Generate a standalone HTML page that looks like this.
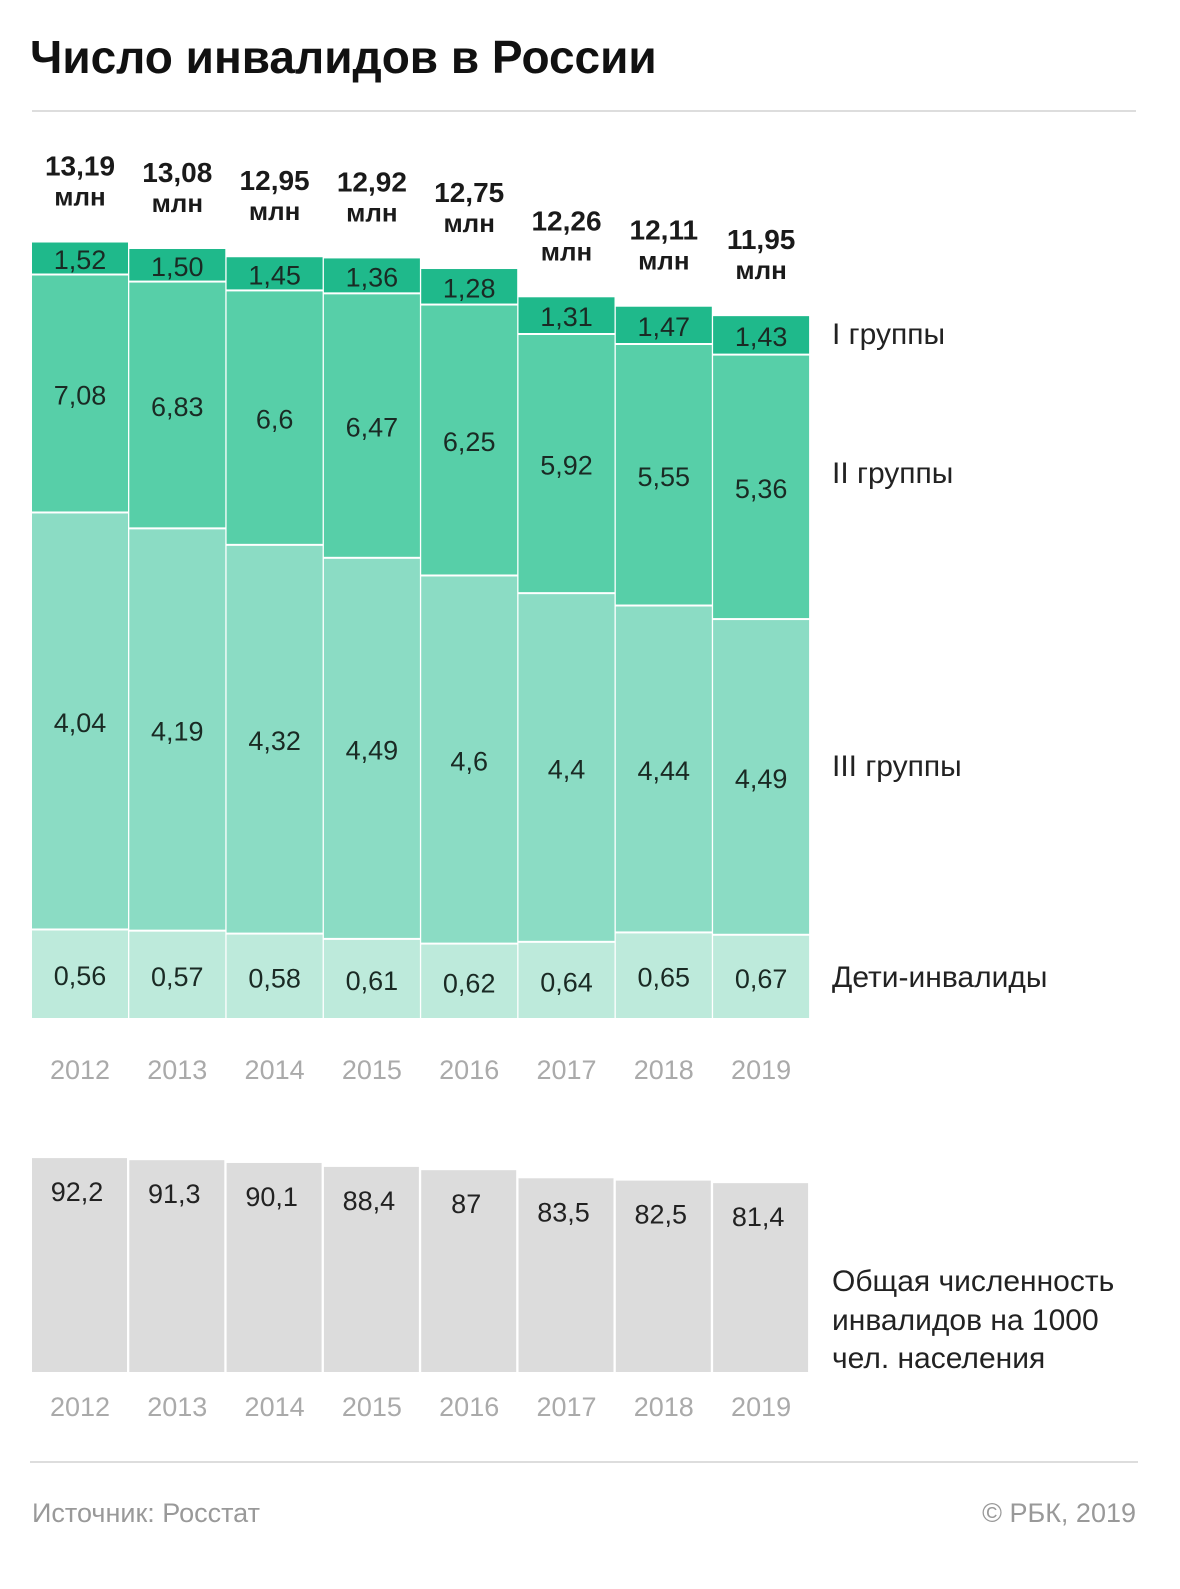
<!DOCTYPE html>
<html><head><meta charset="utf-8">
<style>
body{margin:0;background:#fff;width:1180px;height:1584px;overflow:hidden;font-family:"Liberation Sans","DejaVu Sans",sans-serif;}
svg text{font-family:"Liberation Sans","DejaVu Sans",sans-serif;}
</style></head>
<body>
<svg id="chart" width="1180" height="1584" xmlns="http://www.w3.org/2000/svg">
<text x="30" y="73" font-size="46" font-weight="bold" fill="#111">Число инвалидов в России</text>
<line x1="32" y1="111" x2="1136" y2="111" stroke="#ddd" stroke-width="2"/>
<g id="stack"></g>
<g id="rate"></g>
<text x="832" y="344" font-size="30" fill="#222">I группы</text>
<text x="832" y="483" font-size="30" fill="#222">II группы</text>
<text x="832" y="776" font-size="30" fill="#222">III группы</text>
<text x="832" y="987" font-size="30" fill="#222">Дети-инвалиды</text>
<text font-size="30" fill="#222"><tspan x="832" y="1291">Общая численность</tspan><tspan x="832" y="1330">инвалидов на 1000</tspan><tspan x="832" y="1368">чел. населения</tspan></text>
<line x1="30" y1="1462" x2="1138" y2="1462" stroke="#ddd" stroke-width="2"/>
<text x="32" y="1522" font-size="27" fill="#999">Источник: Росстат</text>
<text x="1136" y="1522" font-size="27" fill="#999" text-anchor="end">© РБК, 2019</text>
</svg>
<script>
const years=["2012","2013","2014","2015","2016","2017","2018","2019"];
const totals=["13,19","13,08","12,95","12,92","12,75","12,26","12,11","11,95"];
const group1=[1.52,1.50,1.45,1.36,1.28,1.31,1.47,1.43];
const group2=[7.08,6.83,6.6,6.47,6.25,5.92,5.55,5.36];
const group3=[4.04,4.19,4.32,4.49,4.6,4.4,4.44,4.49];
const children=[0.56,0.57,0.58,0.61,0.62,0.64,0.65,0.67];
const rate=[92.2,91.3,90.1,88.4,87,83.5,82.5,81.4];

const NS="http://www.w3.org/2000/svg";
const fmt=v=>String(v).replace('.',',');
const fmt2=v=>v.toFixed(2).replace('.',',');
const x=i=>32+i*97.3;
const bw=96;
const base=1020, k=58.9;
const h=v=>v*k;
const rBase=1372, rk=2.32;
function el(tag,attrs,parent){const e=document.createElementNS(NS,tag);for(const a in attrs)e.setAttribute(a,attrs[a]);parent.appendChild(e);return e;}
const stack=document.getElementById('stack');
const rateG=document.getElementById('rate');
const colors=["#1fb98b","#57cfa8","#8bdcc4","#bdeadb"];
const names=["group-1","group-2","group-3","children"];
years.forEach((yr,i)=>{
  const labels=[group1[i],group2[i],group3[i],children[i]];
  const heights=[children[i],group3[i],group2[i],group1[i]];
  const total=heights.reduce((a,b)=>a+b,0);
  let y=base-h(total);
  const top=y;
  for(let s=0;s<4;s++){
    const hh=h(heights[s]);
    const r=el('rect',{x:x(i),y:y,width:bw,height:hh-2,fill:colors[s]},stack);
    
    
    const t=el('text',{x:x(i)+bw/2,y:y+hh/2+10,'font-size':27,'text-anchor':'middle',fill:'#1a2a24'},stack);
    
    
    t.textContent=s===0?fmt2(labels[s]):fmt(labels[s]);
    y+=hh;
  }
  const tt=el('text',{x:x(i)+bw/2,y:top-67,'font-size':28,'font-weight':'bold','text-anchor':'middle',fill:'#1a1a1a'},stack);
  
  
  tt.textContent=totals[i];
  const tm=el('text',{x:x(i)+bw/2,y:top-37,'font-size':26,'font-weight':'bold','text-anchor':'middle',fill:'#1a1a1a'},stack);
  
  
  tm.textContent='млн';
  const yl=el('text',{x:x(i)+bw/2,y:1079,'font-size':27,'text-anchor':'middle',fill:'#aaa'},stack);
  
  
  yl.textContent=yr;
  const rh=rate[i]*rk;
  const rr=el('rect',{x:x(i),y:rBase-rh,width:bw-1,height:rh,fill:'#dcdcdc'},rateG);
  
  
  const rt=el('text',{x:x(i)+bw/2-3,y:rBase-rh+43,'font-size':27,'text-anchor':'middle',fill:'#222'},rateG);
  
  
  rt.textContent=fmt(rate[i]);
  const yl2=el('text',{x:x(i)+bw/2,y:1416,'font-size':27,'text-anchor':'middle',fill:'#aaa'},rateG);
  
  
  yl2.textContent=yr;
});
</script>
</body></html>
